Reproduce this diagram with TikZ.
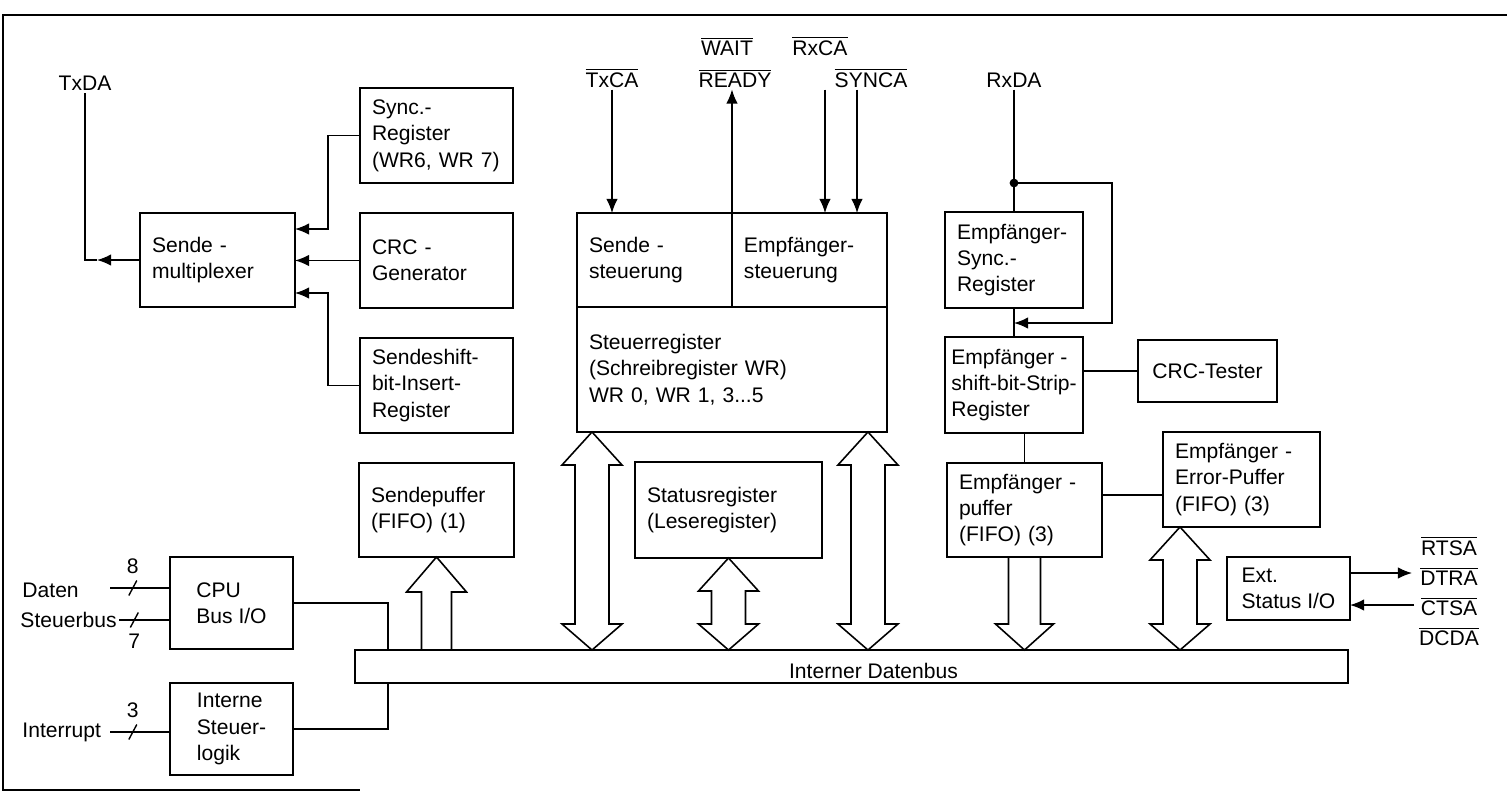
\documentclass[tikz,border=0pt]{standalone}
\usepackage{fontspec}
\setmainfont{Liberation Sans}
\usetikzlibrary{positioning,calc,arrows.meta,decorations.markings}
\newcommand\nsig[1]{$\overline{\hbox{#1}}$}

\begin{document}
\begin{tikzpicture}[x=0.02cm,y=-0.02cm,>={Latex[length=8pt,width=6.5pt]},
    node distance=0.6cm,line width=0.8pt,font=\fontsize{12}{15}\selectfont]
  \tikzstyle{blk}=[draw,line width=1.2pt,outer sep=0pt,align=left,inner xsep=0.24cm]
  \tikzstyle{sig}=[inner sep=1pt]
  \tikzstyle{hollow}=[draw,line width=0.9pt,fill=white,line join=miter]
  \tikzset{bundle/.style={postaction={decorate,decoration={markings,
    mark=at position #1 with {\draw (-0.08cm,-0.15cm) -- (0.08cm,0.15cm);}}}}}
  \useasboundingbox (0,0) rectangle (1507,796);
  \draw[line width=1pt] (1507,15) -- (3,15) -- (3,790) -- (360,790);

  % Sendeseite
  \node[blk,text width=2.62cm,minimum height=1.88cm] (mux) at (217.5,260) {Sende -\\multiplexer};
  \node[blk,text width=2.58cm,minimum height=1.9cm] (syncreg) at (436.5,135.5) {Sync.-\\Register\\(WR6, WR 7)};
  \node[blk,text width=2.58cm,minimum height=1.9cm,below=of syncreg] (crcgen) {CRC -\\Generator};
  \node[blk,text width=2.58cm,minimum height=1.9cm,below=of crcgen] (sendshift) {Sendeshift-\\bit-Insert-\\Register};
  \node[blk,text width=2.62cm,minimum height=1.88cm] (sendepuf) at (436.5,510) {Sendepuffer\\(FIFO) (1)};

  % Steuerung
  \node[blk,text width=2.62cm,minimum height=1.88cm] (sendst) at (654.5,260) {Sende -\\steuerung};
  \node[blk,text width=2.62cm,minimum height=1.88cm,right=0pt of sendst] (empfst) {Empfänger-\\steuerung};
  \node[blk,text width=5.72cm,minimum height=2.5cm,below=0pt of sendst.south east] (steuerreg)
    {Steuerregister\\(Schreibregister WR)\\WR 0, WR 1, 3...5};
  \node[blk,text width=3.26cm,minimum height=1.92cm] (statusreg) at (728.5,510) {Statusregister\\(Leseregister)};

  % Empfangsseite
  \node[blk,text width=2.28cm,minimum height=1.92cm] (esync) at (1014,260) {Empfänger-\\Sync.-\\Register};
  \node[blk,inner xsep=0.1cm,minimum width=2.76cm,minimum height=1.92cm] (eshift) at (1014,385) {Empfänger -\\shift-bit-Strip-\\Register};
  \node[blk,minimum width=2.78cm,minimum height=1.24cm] (crctest) at (1207.5,371) {CRC-Tester};
  \node[blk,text width=2.62cm,minimum height=1.88cm] (epuf) at (1024.5,510) {Empfänger -\\puffer\\(FIFO) (3)};
  \node[blk,text width=2.66cm,minimum height=1.9cm] (eerr) at (1241.5,479.5) {Empfänger -\\Error-Puffer\\(FIFO) (3)};
  \node[blk,minimum width=2.46cm,minimum height=1.26cm] (extst) at (1288.5,588.5) {Ext.\\Status I/O};

  % CPU-Seite
  \node[blk,minimum width=2.46cm,minimum height=1.84cm] (cpu) at (231.5,603) {CPU\\Bus I/O};
  \node[blk,minimum width=2.46cm,minimum height=1.84cm] (intlog) at (231.5,729) {Interne\\Steuer-\\logik};
  \node[draw,line width=1.2pt,outer sep=0pt,inner sep=0pt,minimum width=19.86cm,minimum height=0.66cm,
    text height=0.5cm] (bus) at (851.5,666.5) {\hspace*{0.88cm}Interner Datenbus};

  % Anschluesse
  \node[sig] (txda) at (85,83) {TxDA};
  \node[sig] (txca) at (612,78) {\nsig{TxCA}};
  \node[sig] (wait) at (727,46) {\nsig{WAIT}};
  \node[sig] (ready) at (735,78) {\nsig{READY}};
  \node[sig] (rxca) at (820,46) {\nsig{RxCA}};
  \node[sig] (synca) at (871,78) {\nsig{SYNCA}};
  \node[sig] (rxda) at (1014,80) {RxDA};
  \node[sig] (rtsa) at (1449,546) {\nsig{RTSA}};
  \node[sig] (dtra) at (1449,576) {\nsig{DTRA}};
  \node[sig] (ctsa) at (1449,606) {\nsig{CTSA}};
  \node[sig] (dcda) at (1449,636) {\nsig{DCDA}};
  \node[sig,anchor=west] (daten) at (20,590) {Daten};
  \node[sig,anchor=west] (steuerbus) at (18,620) {Steuerbus};
  \node[sig,anchor=west] (interrupt) at (20,732) {Interrupt};

  % Verbindungen Sendeseite
  \coordinate (txk) at (97,260);
  \draw[->] (mux.west) -- (txk);
  \draw (txk) -| (txda);
  \draw[->] (syncreg.west) -- ++(-32,0) |- ([yshift=0.62cm]mux.east);
  \draw[->] (crcgen.west) -- (crcgen.west -| mux.east);
  \draw[->] (sendshift.west) -- ++(-32,0) |- ([yshift=-0.66cm]mux.east);

  % Steuersignale
  \draw[->] (txca) -- (txca |- sendst.north);
  \draw[->] (sendst.north east) -- (sendst.north east |- ready.south);
  \draw[->] ([xshift=0.1cm]rxca.south |- synca.south) -- ([xshift=0.1cm]rxca.south |- empfst.north);
  \draw[->] ([xshift=-0.28cm]synca.south) -- ([xshift=-0.28cm]synca.south |- empfst.north);

  % Verbindungen Empfangsseite
  \coordinate (rxdot) at (1014,183);
  \coordinate (rxin) at (1014,323);
  \draw (rxda) -- (esync);
  \fill (rxdot) circle (2.5pt);
  \draw[->] (rxdot) -- ++(98,0) |- (rxin);
  \draw (esync) -- (eshift);
  \draw (eshift.east |- crctest.west) -- (crctest.west);
  \draw (epuf.north) -- (epuf.north |- eshift.south);
  \draw ([yshift=0.3cm]epuf.east) -- ([yshift=0.3cm]epuf.east -| eerr.west);
  \coordinate (xout) at (1412,573);
  \coordinate (xin) at (1414,605);
  \draw[->] (extst.east |- xout) -- (xout);
  \draw[->] (xin) -- (xin -| extst.east);

  % CPU-Anschluss
  \coordinate (din) at (110,588);
  \coordinate (iin) at (110,732);
  \draw[bundle=0.38] (din) -- (din -| cpu.west) node[pos=0.38,above=0.15cm] {8};
  \draw[bundle=0.3] (steuerbus.east) -- (steuerbus.east -| cpu.west) node[pos=0.3,below=0.15cm] {7};
  \draw[bundle=0.38] (iin) -- (iin -| intlog.west) node[pos=0.38,above=0.15cm] {3};
  \draw (cpu.east) -| ([xshift=0.66cm]bus.north west);
  \draw (intlog.east) -| ([xshift=0.66cm]bus.south west);

  % Busanschluesse
  \coordinate (up1) at ([xshift=-2.8cm]steuerreg.south);
  \coordinate (up2) at (statusreg.south);
  \coordinate (up3) at ([xshift=2.72cm]steuerreg.south);
  \coordinate (up4) at ([xshift=-1.23cm]eerr.south);
  \foreach \n in {1,...,4} {
    \coordinate (dn\n) at (up\n |- bus.north);
    \draw[hollow] (up\n) -- ++(30,33) -- ++(-13,0) -- ($(dn\n)+(17,-26)$) -- ++(13,0) -- (dn\n)
      -- ++(-30,-26) -- ++(13,0) -- ($(up\n)+(-17,33)$) -- ++(-13,0) -- cycle;
  }
  \coordinate (sp) at (sendepuf.south);
  \coordinate (spb) at (sp |- bus.north);
  \draw[hollow] (sp) -- ++(30,35) -- ++(-15,0) -- ($(spb)+(15,0)$) -- ($(spb)+(-15,0)$)
    -- ($(sp)+(-15,35)$) -- ++(-15,0) -- cycle;
  \coordinate (ep) at (epuf.south);
  \coordinate (epb) at (ep |- bus.north);
  \draw[hollow] ($(ep)+(16,0)$) -- ($(epb)+(16,-26)$) -- ++(13,0) -- (epb) -- ++(-29,-26)
    -- ++(13,0) -- ($(ep)+(-16,0)$) -- cycle;
\end{tikzpicture}
\end{document}
